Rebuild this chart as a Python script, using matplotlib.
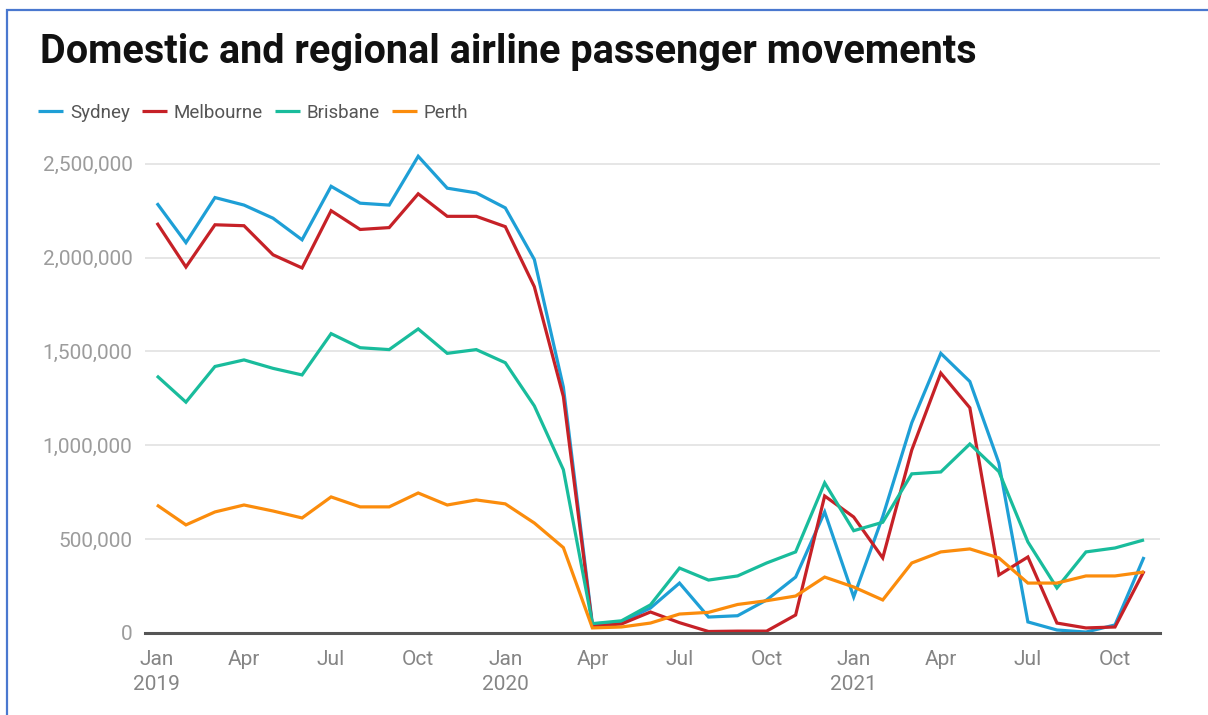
import numpy as np
import matplotlib.pyplot as plt
from matplotlib.patches import Rectangle

plt.rcParams['font.family'] = ['Roboto', 'DejaVu Sans']

# monthly passenger movements, Jan 2019 .. Nov 2021 (millions)
month_names = ['Jan', 'Feb', 'Mar', 'Apr', 'May', 'Jun',
               'Jul', 'Aug', 'Sep', 'Oct', 'Nov', 'Dec']
years = [2019, 2020, 2021]
n_months = 35

sydney = [2.29, 2.08, 2.32, 2.28, 2.21, 2.095, 2.38, 2.29, 2.28, 2.54, 2.37, 2.345,
          2.265, 1.99, 1.31, 0.048, 0.059, 0.133, 0.266, 0.085, 0.092, 0.176, 0.298, 0.645,
          0.192, 0.62, 1.12, 1.49, 1.34, 0.906, 0.059, 0.016, 0.005, 0.043, 0.405]
melbourne = [2.185, 1.95, 2.175, 2.17, 2.015, 1.945, 2.25, 2.15, 2.16, 2.34, 2.22, 2.22,
             2.165, 1.845, 1.26, 0.037, 0.048, 0.112, 0.055, 0.008, 0.01, 0.01, 0.096, 0.73,
             0.618, 0.40, 0.975, 1.385, 1.2, 0.309, 0.405, 0.053, 0.027, 0.032, 0.33]
brisbane = [1.37, 1.23, 1.42, 1.455, 1.41, 1.375, 1.595, 1.52, 1.51, 1.62, 1.49, 1.51,
            1.44, 1.21, 0.87, 0.05, 0.065, 0.15, 0.346, 0.282, 0.304, 0.373, 0.432, 0.80,
            0.545, 0.59, 0.848, 0.858, 1.007, 0.86, 0.485, 0.24, 0.432, 0.453, 0.496]
perth = [0.682, 0.576, 0.645, 0.682, 0.65, 0.613, 0.725, 0.672, 0.672, 0.746, 0.682, 0.709,
         0.688, 0.586, 0.455, 0.027, 0.032, 0.053, 0.101, 0.11, 0.152, 0.172, 0.197, 0.298,
         0.245, 0.176, 0.373, 0.432, 0.448, 0.40, 0.266, 0.266, 0.304, 0.304, 0.325]

series = [('Sydney', sydney, '#1e9fd6'),
          ('Melbourne', melbourne, '#c62127'),
          ('Brisbane', brisbane, '#19bc9c'),
          ('Perth', perth, '#fb8c0c')]

x = np.arange(n_months)

fig = plt.figure(figsize=(12.08, 7.15), dpi=100)
ax = fig.add_axes([145 / 1208, 1 - 633 / 715, (1160 - 145) / 1208, 0.6825])

for name, vals, col in series:
    ax.plot(x, np.array(vals) * 1e6, color=col, lw=2.3, label=name,
            solid_joinstyle='miter', solid_capstyle='butt')

ax.set_xlim(-0.41, 34.55)
ax.set_ylim(0, 2.6e6)

yt = np.arange(0, 2500001, 500000)
ax.set_yticks(yt)
ax.set_yticklabels([f'{v:,}' for v in yt])
ax.grid(axis='y', color='#e4e4e4', lw=1.3)
ax.set_axisbelow(True)

tick_pos = x[::3]
tick_lab = []
for i in tick_pos:
    m = month_names[i % 12]
    if i % 12 == 0:
        m += '\n' + str(years[i // 12])
    tick_lab.append(m)
ax.set_xticks(tick_pos)
ax.set_xticklabels(tick_lab, linespacing=1.45, va='top')

ax.tick_params(axis='y', length=0, pad=9, labelsize=15, labelcolor='#9c9c9c')
ax.tick_params(axis='x', length=0, pad=12, labelsize=15, labelcolor='#858585')

for s in ['top', 'right', 'left']:
    ax.spines[s].set_visible(False)
ax.spines['bottom'].set_color('#555555')
ax.spines['bottom'].set_linewidth(2.2)

fig.text(40 / 1208, 1 - 63 / 715, 'Domestic and regional airline passenger movements',
         fontsize=28.5, fontweight='bold', color='#111111', va='baseline')

leg = fig.legend(loc='center left', bbox_to_anchor=(38 / 1208, 1 - 113 / 715), ncol=4,
                 frameon=False, fontsize=13.5, handlelength=1.33, handletextpad=0.37,
                 columnspacing=0.64, borderpad=0, borderaxespad=0)
for t in leg.get_texts():
    t.set_color('#555555')

# thin blue frame round the panel
fig.patches.append(Rectangle((7.5 / 1208, -0.05), 1.2, 1 - 10 / 715 + 0.05,
                             transform=fig.transFigure, fill=False,
                             edgecolor='#4a78cf', lw=1.6))

fig.savefig('out.png', dpi=100)
